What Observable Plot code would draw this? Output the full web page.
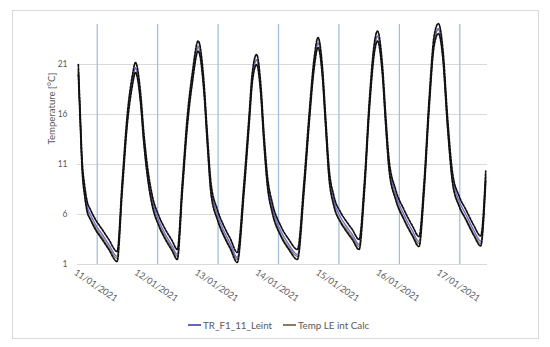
<!DOCTYPE html>
<html>
<head>
<meta charset="utf-8">
<script src="https://cdn.jsdelivr.net/npm/d3@7"></script>
<script src="https://cdn.jsdelivr.net/npm/@observablehq/plot@0.6"></script>
<style>
  body { margin: 0; background: #fff; }
  #wrap { position: relative; width: 550px; height: 347px; overflow: hidden; font-family: Lato, sans-serif; color: #595959; }
  #border { position: absolute; left: 12px; top: 10px; width: 527px; height: 329px; box-sizing: border-box; border: 1px solid #d9d9d9; }
  #chart { position: absolute; left: 0; top: 0; }
  .leg { position: absolute; top: 319px; font-size: 9.8px; line-height: 12px; white-space: nowrap; display: flex; align-items: center; }
  .sw { display: inline-block; width: 13px; height: 2px; margin-right: 2px; }
</style>
</head>
<body>
<div id="wrap">
  <div id="border"></div>
  <div id="chart"></div>
  <div class="leg" style="left:188px"><span class="sw" style="background:#6468bd"></span>TR_F1_11_Leint</div>
  <div class="leg" style="left:283px"><span class="sw" style="background:#8c7b64"></span>Temp LE int Calc</div>
</div>
<script>
// hours since 11/01/2021 00:00
const hours = [
  -7.5, -6.8, -6.0, -5.0, -4.0, -2.7, -0.7, 2.0, 4.6, 7.9,
  9.9, 11.9, 13.9, 15.2, 17.2, 18.5, 19.9, 21.9, 24.5, 27.1, 29.8, 31.8,
  33.8, 35.8, 37.8, 40.1, 42.4, 43.7, 45.2, 47.7, 50.3, 53.0, 55.6,
  58.3, 60.3, 61.6, 63.3, 64.9, 66.2, 67.6, 69.5, 72.9, 76.1, 79.5,
  82.1, 84.1, 86.1, 87.7, 89.4, 90.7, 92.0, 94.0, 96.7, 98.7, 101.3, 104.0,
  106.1, 108.1, 110.1, 111.3, 113.3, 114.6, 115.9, 118.5, 121.8, 125.2, 127.8,
  129.8, 131.8, 133.8, 135.5, 137.3, 139.1, 141.1, 143.7, 146.4, 149.7, 152.3, 154.3
];
const leint = [
  20.5, 16.0, 11.0, 8.4, 6.8, 6.0, 5.0, 4.0, 3.0, 1.8,
  8.7, 15.4, 19.3, 20.7, 17.7, 13.7, 10.4, 7.35, 5.35, 4.0, 2.85, 2.0,
  8.7, 15.35, 19.7, 22.85, 18.7, 13.7, 8.6, 6.0, 4.35, 3.0, 1.7,
  8.7, 15.35, 19.7, 21.5, 18.7, 13.7, 9.35, 6.7, 4.35, 3.0, 2.0,
  8.7, 15.35, 21.0, 23.2, 20.35, 15.35, 10.35, 7.35, 5.7, 4.9, 4.0, 3.0,
  8.7, 17.0, 22.7, 23.85, 20.35, 15.35, 11.0, 8.0, 6.0, 4.35, 3.3,
  8.7, 17.0, 23.35, 24.6, 22.0, 15.35, 9.7, 7.35, 6.0, 4.35, 3.35, 9.85
];
const calc = [
  20.4, 15.8, 10.7, 8.0, 6.4, 5.6, 4.7, 3.7, 2.7, 1.6,
  8.6, 15.3, 19.2, 20.6, 17.4, 13.3, 9.9, 6.9, 5.0, 3.7, 2.6, 1.8,
  8.6, 15.3, 19.6, 22.7, 18.4, 13.3, 8.1, 5.6, 4.0, 2.7, 1.5,
  8.6, 15.3, 19.6, 21.4, 18.4, 13.3, 8.9, 6.3, 4.0, 2.7, 1.8,
  8.6, 15.3, 20.9, 23.1, 20.1, 14.9, 9.9, 6.9, 5.3, 4.6, 3.7, 2.8,
  8.6, 16.9, 22.6, 23.8, 20.1, 14.9, 10.6, 7.6, 5.6, 4.0, 3.1,
  8.6, 16.9, 23.3, 24.5, 21.7, 14.9, 9.3, 6.9, 5.6, 4.0, 3.1, 9.8
];
const upper = [
  21.0, 16.5, 11.5, 8.9, 7.3, 6.5, 5.5, 4.5, 3.5, 2.3,
  9.2, 15.9, 19.8, 21.2, 18.2, 14.2, 10.9, 7.85, 5.85, 4.5, 3.35, 2.5,
  9.2, 15.85, 20.2, 23.35, 19.2, 14.2, 9.1, 6.5, 4.85, 3.5, 2.2,
  9.2, 15.85, 20.2, 22.0, 19.2, 14.2, 9.85, 7.2, 4.85, 3.5, 2.5,
  9.2, 15.85, 21.5, 23.7, 20.85, 15.85, 10.85, 7.85, 6.2, 5.4, 4.5, 3.5,
  9.2, 17.5, 23.2, 24.35, 20.85, 15.85, 11.5, 8.5, 6.5, 4.85, 3.8,
  9.2, 17.5, 23.85, 25.1, 22.5, 15.85, 10.2, 7.85, 6.5, 4.85, 3.85, 10.35
];
const lower = [
  20.0, 15.5, 10.5, 7.9, 6.3, 5.5, 4.5, 3.5, 2.5, 1.3,
  8.2, 14.9, 18.8, 20.2, 17.2, 13.2, 9.9, 6.85, 4.85, 3.5, 2.35, 1.5,
  8.2, 14.85, 19.2, 22.35, 18.2, 13.2, 8.1, 5.5, 3.85, 2.5, 1.2,
  8.2, 14.85, 19.2, 21.0, 18.2, 13.2, 8.85, 6.2, 3.85, 2.5, 1.5,
  8.2, 14.85, 20.5, 22.7, 19.85, 14.85, 9.85, 6.85, 5.2, 4.4, 3.5, 2.5,
  8.2, 16.5, 22.2, 23.35, 19.85, 14.85, 10.5, 7.5, 5.5, 3.85, 2.8,
  8.2, 16.5, 22.85, 24.1, 21.5, 14.85, 9.2, 6.85, 5.5, 3.85, 2.85, 9.35
];
const tickLabels = ["11/01/2021","12/01/2021","13/01/2021","14/01/2021","15/01/2021","16/01/2021","17/01/2021"];
const yTicks = [1, 6, 11, 16, 21];
const seriesNames = ["TR_F1_11_Leint", "Temp LE int Calc"];
const yTitle = "Temperature [°C]";

const t0 = Date.UTC(2021, 0, 11);
const toDate = h => new Date(t0 + h * 3600e3);
const rows = hours.map((h, i) => ({date: toDate(h), leint: leint[i], calc: calc[i], upper: upper[i], lower: lower[i]}));
const parse = d3.utcParse("%d/%m/%Y");
const ticks = tickLabels.map(l => ({date: parse(l), label: l}));

const chart = Plot.plot({
  width: 550, height: 310,
  marginLeft: 77, marginRight: 63, marginTop: 24, marginBottom: 46,
  x: {type: "utc", domain: [toDate(-7.83), toDate(155)], axis: null},
  y: {domain: [1, 25], axis: null},
  style: {fontFamily: "Lato, sans-serif", color: "#595959", background: "transparent"},
  marks: [
    Plot.ruleY(yTicks, {stroke: "#d9d9d9", strokeWidth: 1}),
    Plot.ruleX(ticks, {x: "date", stroke: "#a3bfdc", strokeWidth: 1.3}),
    Plot.axisY({ticks: yTicks, tickSize: 0, tickPadding: 10, fontSize: 8.5, label: null}),
    Plot.text(ticks, {x: "date", text: "label", frameAnchor: "bottom", lineAnchor: "middle", textAnchor: "middle", dy: 21, dx: -1.5, rotate: 34, fontSize: 9, fill: "#595959"}),
    Plot.text([yTitle], {text: d => d, frameAnchor: "left", dx: -26, rotate: -90, fontSize: 9.6, fill: "#595959"}),
    Plot.line(rows, {x: "date", y: "calc", stroke: "#8c7b64", strokeWidth: 1.4, curve: "monotone-x"}),
    Plot.line(rows, {x: "date", y: "leint", stroke: "#7070c8", strokeWidth: 1.4, curve: "monotone-x"}),
    Plot.line(rows, {x: "date", y: "upper", stroke: "#111", strokeWidth: 1.7, strokeDasharray: "2.2,1.4", curve: "monotone-x"}),
    Plot.line(rows, {x: "date", y: "lower", stroke: "#111", strokeWidth: 1.7, strokeDasharray: "2.2,1.4", curve: "monotone-x"})
  ]
});
document.getElementById("chart").appendChild(chart);
</script>
</body>
</html>
